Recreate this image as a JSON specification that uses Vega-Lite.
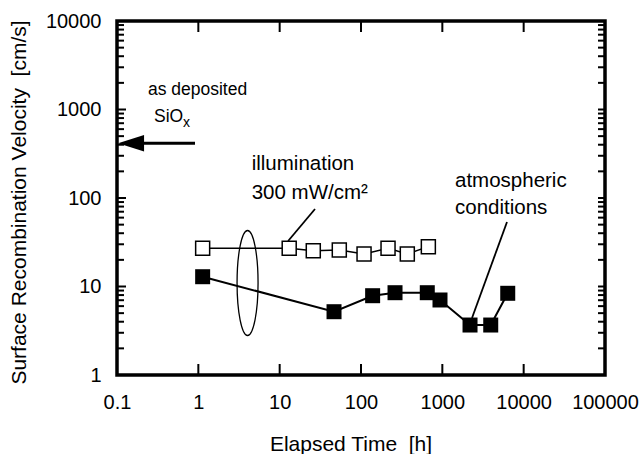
{
  "$schema": "https://vega.github.io/schema/vega-lite/v6.json",
  "width": 488,
  "height": 354,
  "autosize": {"type": "none"},
  "padding": {"left": 117, "top": 21, "right": 35, "bottom": 79},
  "background": "white",
  "config": {
    "font": "Liberation Sans",
    "view": {"stroke": "black", "strokeWidth": 3.5},
    "axis": {
      "grid": false,
      "domain": false,
      "ticks": false,
      "labelFont": "Liberation Sans",
      "labelFontSize": 20,
      "labelColor": "black",
      "labelFlush": false,
      "labelOverlap": false,
      "titleFont": "Liberation Sans",
      "titleFontSize": 21,
      "titleFontWeight": "normal",
      "titleColor": "black"
    }
  },
  "datasets": {
    "open": [
      {"t": 1.13, "v": 27}, {"t": 13.1, "v": 27}, {"t": 25.9, "v": 25.4}, {"t": 54.1, "v": 25.9},
      {"t": 109, "v": 23.3}, {"t": 215, "v": 27}, {"t": 371, "v": 23.3}, {"t": 673, "v": 28.2}
    ],
    "filled": [
      {"t": 1.13, "v": 12.9}, {"t": 46.6, "v": 5.19}, {"t": 139, "v": 7.87}, {"t": 262, "v": 8.51},
      {"t": 653, "v": 8.51}, {"t": 936, "v": 7.04}, {"t": 2190, "v": 3.67}, {"t": 3936, "v": 3.67},
      {"t": 6370, "v": 8.38}
    ],
    "vTicks": [
      {"t": 1, "v": 1.154}, {"t": 10, "v": 1.154}, {"t": 100, "v": 1.154}, {"t": 1000, "v": 1.154}, {"t": 10000, "v": 1.154},
      {"t": 1, "v": 8665}, {"t": 10, "v": 8665}, {"t": 100, "v": 8665}, {"t": 1000, "v": 8665}, {"t": 10000, "v": 8665}
    ],
    "hMajor": [{"v": 10, "t": 0.1136}, {"v": 100, "t": 0.1136}, {"v": 1000, "t": 0.1136}],
    "hMinor": [
      {"v": 2, "t": 0.1104}, {"v": 3, "t": 0.1104}, {"v": 4, "t": 0.1104}, {"v": 5, "t": 0.1104}, {"v": 6, "t": 0.1104}, {"v": 7, "t": 0.1104}, {"v": 8, "t": 0.1104}, {"v": 9, "t": 0.1104},
      {"v": 20, "t": 0.1104}, {"v": 30, "t": 0.1104}, {"v": 40, "t": 0.1104}, {"v": 50, "t": 0.1104}, {"v": 60, "t": 0.1104}, {"v": 70, "t": 0.1104}, {"v": 80, "t": 0.1104}, {"v": 90, "t": 0.1104},
      {"v": 200, "t": 0.1104}, {"v": 300, "t": 0.1104}, {"v": 400, "t": 0.1104}, {"v": 500, "t": 0.1104}, {"v": 600, "t": 0.1104}, {"v": 700, "t": 0.1104}, {"v": 800, "t": 0.1104}, {"v": 900, "t": 0.1104},
      {"v": 2000, "t": 0.1104}, {"v": 3000, "t": 0.1104}, {"v": 4000, "t": 0.1104}, {"v": 5000, "t": 0.1104}, {"v": 6000, "t": 0.1104}, {"v": 7000, "t": 0.1104}, {"v": 8000, "t": 0.1104}, {"v": 9000, "t": 0.1104},
      {"v": 10, "t": 90580}, {"v": 100, "t": 90580}, {"v": 1000, "t": 90580},
      {"v": 2, "t": 90580}, {"v": 3, "t": 90580}, {"v": 4, "t": 90580}, {"v": 5, "t": 90580}, {"v": 6, "t": 90580}, {"v": 7, "t": 90580}, {"v": 8, "t": 90580}, {"v": 9, "t": 90580},
      {"v": 20, "t": 90580}, {"v": 30, "t": 90580}, {"v": 40, "t": 90580}, {"v": 50, "t": 90580}, {"v": 60, "t": 90580}, {"v": 70, "t": 90580}, {"v": 80, "t": 90580}, {"v": 90, "t": 90580},
      {"v": 200, "t": 90580}, {"v": 300, "t": 90580}, {"v": 400, "t": 90580}, {"v": 500, "t": 90580}, {"v": 600, "t": 90580}, {"v": 700, "t": 90580}, {"v": 800, "t": 90580}, {"v": 900, "t": 90580},
      {"v": 2000, "t": 90580}, {"v": 3000, "t": 90580}, {"v": 4000, "t": 90580}, {"v": 5000, "t": 90580}, {"v": 6000, "t": 90580}, {"v": 7000, "t": 90580}, {"v": 8000, "t": 90580}, {"v": 9000, "t": 90580}
    ],
    "arrowLine": [{"t": 0.192, "t2": 0.91, "v": 415}],
    "arrowHead": [{"t": 0.149, "v": 415}],
    "leaders": [
      {"t": 12.7, "v": 32.7, "t2": 27.2, "v2": 75.1},
      {"t": 2317, "v": 4.41, "t2": 6237, "v2": 53.6}
    ],
    "loop": [{"t": 4.03, "v": 10.95}],
    "notesBig": [
      {"t": 4.53, "v": 207, "label": "illumination"},
      {"t": 4.53, "v": 96.7, "label": "300 mW/cm²"},
      {"t": 1432, "v": 134, "label": "atmospheric"},
      {"t": 1432, "v": 65.9, "label": "conditions"}
    ],
    "notesSmall": [
      {"t": 0.24, "v": 1459, "label": "as deposited"},
      {"t": 0.285, "v": 722, "label": "SiO"}
    ],
    "notesSub": [{"t": 0.648, "v": 629, "label": "x"}]
  },
  "layer": [
    {
      "data": {"name": "open"},
      "mark": {"type": "line", "color": "black", "strokeWidth": 1.5},
      "encoding": {
        "x": {
          "field": "t", "type": "quantitative",
          "scale": {"type": "log", "domain": [0.1, 100000], "nice": false},
          "axis": {
            "orient": "bottom",
            "title": "Elapsed Time\u00a0 [h]",
            "values": [0.1, 1, 10, 100, 1000, 10000, 100000],
            "format": "~g",
            "labelPadding": 17,
            "titleX": 233.5,
            "titleY": 75,
            "titleBaseline": "alphabetic",
            "titleAnchor": "middle"
          }
        },
        "y": {
          "field": "v", "type": "quantitative",
          "scale": {"type": "log", "domain": [1, 10000], "nice": false},
          "axis": {
            "orient": "left",
            "title": "Surface Recombination Velocity\u00a0 [cm/s]",
            "values": [1, 10, 100, 1000, 10000],
            "format": "~g",
            "labelPadding": 16,
            "titleX": -92,
            "titleY": 181,
            "titleAngle": -90,
            "titleBaseline": "alphabetic",
            "titleAlign": "center"
          }
        }
      }
    },
    {
      "data": {"name": "filled"},
      "mark": {"type": "line", "color": "black", "strokeWidth": 2},
      "encoding": {
        "x": {"field": "t", "type": "quantitative", "scale": {"type": "log", "domain": [0.1, 100000], "nice": false}, "axis": null},
        "y": {"field": "v", "type": "quantitative", "scale": {"type": "log", "domain": [1, 10000], "nice": false}, "axis": null}
      }
    },
    {
      "data": {"name": "open"},
      "mark": {"type": "point", "shape": "square", "filled": true, "fill": "white", "stroke": "black", "strokeWidth": 1.5, "size": 196, "opacity": 1},
      "encoding": {
        "x": {"field": "t", "type": "quantitative", "scale": {"type": "log", "domain": [0.1, 100000], "nice": false}, "axis": null},
        "y": {"field": "v", "type": "quantitative", "scale": {"type": "log", "domain": [1, 10000], "nice": false}, "axis": null}
      }
    },
    {
      "data": {"name": "filled"},
      "mark": {"type": "point", "shape": "square", "filled": true, "color": "black", "size": 225, "opacity": 1},
      "encoding": {
        "x": {"field": "t", "type": "quantitative", "scale": {"type": "log", "domain": [0.1, 100000], "nice": false}, "axis": null},
        "y": {"field": "v", "type": "quantitative", "scale": {"type": "log", "domain": [1, 10000], "nice": false}, "axis": null}
      }
    },
    {
      "data": {"name": "arrowLine"},
      "mark": {"type": "rule", "color": "black", "strokeWidth": 3},
      "encoding": {
        "x": {"field": "t", "type": "quantitative", "scale": {"type": "log", "domain": [0.1, 100000], "nice": false}, "axis": null},
        "x2": {"field": "t2"},
        "y": {"field": "v", "type": "quantitative", "scale": {"type": "log", "domain": [1, 10000], "nice": false}, "axis": null}
      }
    },
    {
      "data": {"name": "arrowHead"},
      "mark": {"type": "point", "shape": "M -1 0 L 1 -0.64 L 1 0.64 Z", "filled": true, "color": "black", "size": 676, "opacity": 1},
      "encoding": {
        "x": {"field": "t", "type": "quantitative", "scale": {"type": "log", "domain": [0.1, 100000], "nice": false}, "axis": null},
        "y": {"field": "v", "type": "quantitative", "scale": {"type": "log", "domain": [1, 10000], "nice": false}, "axis": null}
      }
    },
    {
      "data": {"name": "leaders"},
      "mark": {"type": "rule", "color": "black", "strokeWidth": 1.8},
      "encoding": {
        "x": {"field": "t", "type": "quantitative", "scale": {"type": "log", "domain": [0.1, 100000], "nice": false}, "axis": null},
        "x2": {"field": "t2"},
        "y": {"field": "v", "type": "quantitative", "scale": {"type": "log", "domain": [1, 10000], "nice": false}, "axis": null},
        "y2": {"field": "v2"}
      }
    },
    {
      "data": {"name": "loop"},
      "mark": {"type": "point", "shape": "M 0 -1 A 0.2 1 0 0 1 0 1 A 0.2 1 0 0 1 0 -1 Z", "filled": false, "stroke": "black", "strokeWidth": 1.3, "size": 11025, "opacity": 1},
      "encoding": {
        "x": {"field": "t", "type": "quantitative", "scale": {"type": "log", "domain": [0.1, 100000], "nice": false}, "axis": null},
        "y": {"field": "v", "type": "quantitative", "scale": {"type": "log", "domain": [1, 10000], "nice": false}, "axis": null}
      }
    },
    {
      "data": {"name": "notesBig"},
      "mark": {"type": "text", "align": "left", "baseline": "alphabetic", "fontSize": 20.5, "color": "black", "font": "Liberation Sans"},
      "encoding": {
        "x": {"field": "t", "type": "quantitative", "scale": {"type": "log", "domain": [0.1, 100000], "nice": false}, "axis": null},
        "y": {"field": "v", "type": "quantitative", "scale": {"type": "log", "domain": [1, 10000], "nice": false}, "axis": null},
        "text": {"field": "label"}
      }
    },
    {
      "data": {"name": "notesSmall"},
      "mark": {"type": "text", "align": "left", "baseline": "alphabetic", "fontSize": 17.5, "color": "black", "font": "Liberation Sans"},
      "encoding": {
        "x": {"field": "t", "type": "quantitative", "scale": {"type": "log", "domain": [0.1, 100000], "nice": false}, "axis": null},
        "y": {"field": "v", "type": "quantitative", "scale": {"type": "log", "domain": [1, 10000], "nice": false}, "axis": null},
        "text": {"field": "label"}
      }
    },
    {
      "data": {"name": "notesSub"},
      "mark": {"type": "text", "align": "left", "baseline": "alphabetic", "fontSize": 14, "color": "black", "font": "Liberation Sans"},
      "encoding": {
        "x": {"field": "t", "type": "quantitative", "scale": {"type": "log", "domain": [0.1, 100000], "nice": false}, "axis": null},
        "y": {"field": "v", "type": "quantitative", "scale": {"type": "log", "domain": [1, 10000], "nice": false}, "axis": null},
        "text": {"field": "label"}
      }
    },
    {
      "data": {"name": "vTicks"},
      "mark": {"type": "point", "shape": "M 0 -1 L 0 1", "filled": false, "stroke": "black", "strokeWidth": 2, "size": 121, "opacity": 1},
      "encoding": {
        "x": {"field": "t", "type": "quantitative", "scale": {"type": "log", "domain": [0.1, 100000], "nice": false}, "axis": null},
        "y": {"field": "v", "type": "quantitative", "scale": {"type": "log", "domain": [1, 10000], "nice": false}, "axis": null}
      }
    },
    {
      "data": {"name": "hMajor"},
      "mark": {"type": "point", "shape": "M -1 0 L 1 0", "filled": false, "stroke": "black", "strokeWidth": 2, "size": 81, "opacity": 1},
      "encoding": {
        "x": {"field": "t", "type": "quantitative", "scale": {"type": "log", "domain": [0.1, 100000], "nice": false}, "axis": null},
        "y": {"field": "v", "type": "quantitative", "scale": {"type": "log", "domain": [1, 10000], "nice": false}, "axis": null}
      }
    },
    {
      "data": {"name": "hMinor"},
      "mark": {"type": "point", "shape": "M -1 0 L 1 0", "filled": false, "stroke": "black", "strokeWidth": 2, "size": 49, "opacity": 1},
      "encoding": {
        "x": {"field": "t", "type": "quantitative", "scale": {"type": "log", "domain": [0.1, 100000], "nice": false}, "axis": null},
        "y": {"field": "v", "type": "quantitative", "scale": {"type": "log", "domain": [1, 10000], "nice": false}, "axis": null}
      }
    }
  ],
  "resolve": {"axis": {"x": "independent", "y": "independent"}}
}
